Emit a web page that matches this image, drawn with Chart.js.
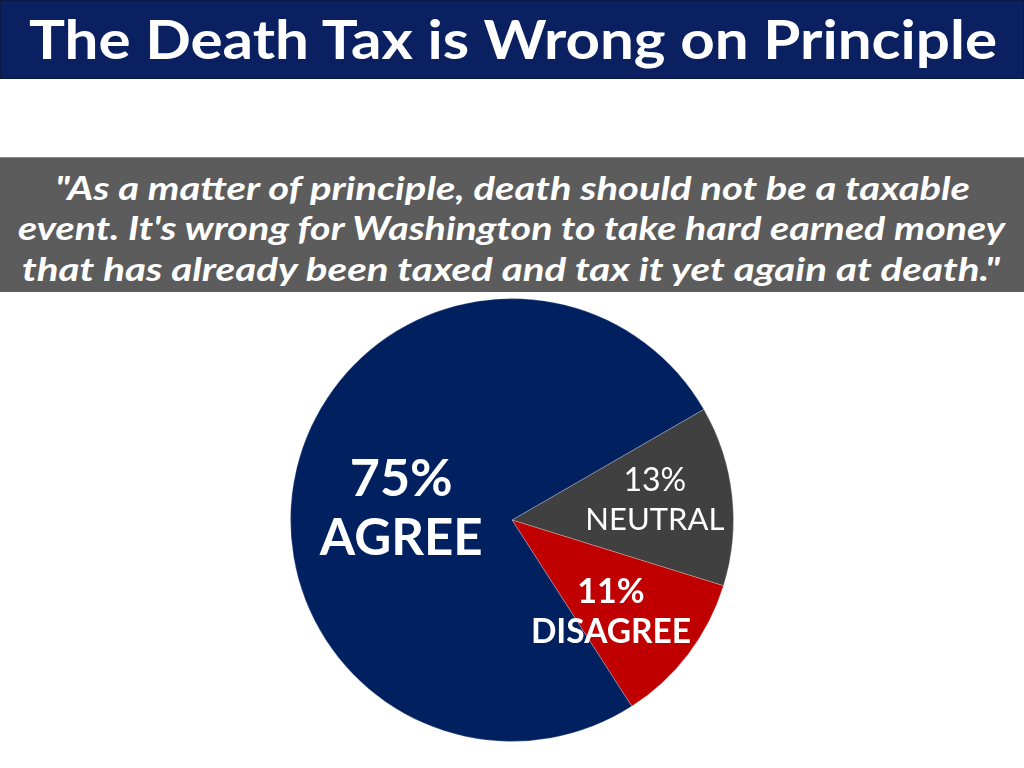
<!DOCTYPE html>
<html>
<head>
<meta charset="utf-8">
<title>The Death Tax is Wrong on Principle</title>
<script src="https://cdn.jsdelivr.net/npm/chart.js@4"></script>
<style>
    html, body { margin: 0; padding: 0; background: #fff; }
    body { width: 1024px; height: 768px; position: relative; overflow: hidden; font-family: Lato, "DejaVu Sans", sans-serif; }
    #titleBar {
        position: absolute; left: 0; top: 0; width: 1022px; height: 77px;
        background: #0b2060; border: 1px solid #0a1a40;
    }
    #titleBar .line {
        position: absolute; left: 0; top: 6px; white-space: nowrap;
        color: #fff; font-weight: bold; font-size: 54px; line-height: 64px;
        transform-origin: left top;
    }
    #quoteBox {
        position: absolute; left: 0; top: 157px; width: 1024px; height: 134px;
        background: #5c5c5c; border-top: 1px solid #888;
    }
    #quoteBox .line {
        position: absolute; white-space: nowrap;
        color: #fff; font-weight: bold; font-style: italic; font-size: 33px; line-height: 41px;
        transform-origin: left top;
    }
    #chartWrap { position: absolute; left: 0; top: 296px; width: 1024px; height: 448px; }
</style>
</head>
<body>
<div id="titleBar"><span class="line" data-x="28" data-w="968">The Death Tax is Wrong on Principle</span></div>
<div id="quoteBox">
    <span class="line" data-x="55" data-y="9" data-w="915">"As a matter of principle, death should not be a taxable</span>
    <span class="line" data-x="18" data-y="49" data-w="987">event. It's wrong for Washington to take hard earned money</span>
    <span class="line" data-x="22" data-y="90" data-w="978">that has already been taxed and tax it yet again at death."</span>
</div>
<div id="chartWrap"><canvas id="pieChart"></canvas></div>

<script>
// Datos del gráfico
const categories = ['NEUTRAL', 'DISAGREE', 'AGREE'];
const values = [13, 11, 75];
const percentLabels = ['13%', '11%', '75%'];
const sliceColors = ['#404040', '#c00000', '#002060'];

// Ajusta cada línea de texto al ancho que ocupa en la imagen
document.querySelectorAll('.line').forEach(function (el) {
    const w = el.getBoundingClientRect().width;
    const target = parseFloat(el.dataset.w);
    el.style.left = el.dataset.x + 'px';
    if (el.dataset.y) el.style.top = el.dataset.y + 'px';
    el.style.transform = 'scaleX(' + (target / w) + ')';
});

// Etiquetas dentro de cada sector (desplazamiento relativo al radio)
const labelStyle = {
    'AGREE':    { dx: -0.50, dy: -0.05, pct: 52, name: 51, weight: 'bold', gap: 60 },
    'NEUTRAL':  { dx: 0.645, dy: -0.09, pct: 32, name: 31, weight: 'normal', gap: 39 },
    'DISAGREE': { dx: 0.447, dy: 0.415, pct: 34, name: 33.5, weight: 'bold', gap: 40 }
};

const sliceLabels = {
    id: 'sliceLabels',
    afterDatasetsDraw(chart) {
        const ctx = chart.ctx;
        const meta = chart.getDatasetMeta(0);
        meta.data.forEach(function (arc, i) {
            const st = labelStyle[categories[i]];
            const r = arc.outerRadius;
            const x = arc.x + st.dx * r;
            const y = arc.y + st.dy * r;
            ctx.save();
            ctx.fillStyle = '#fff';
            ctx.textAlign = 'center';
            ctx.textBaseline = 'middle';
            ctx.font = st.weight + ' ' + st.pct + 'px Lato, "DejaVu Sans", sans-serif';
            ctx.fillText(percentLabels[i], x, y - st.gap / 2);
            ctx.font = st.weight + ' ' + st.name + 'px Lato, "DejaVu Sans", sans-serif';
            ctx.fillText(categories[i], x, y + st.gap / 2);
            ctx.restore();
        });
    }
};

new Chart(document.getElementById('pieChart').getContext('2d'), {
    type: 'pie',
    data: {
        labels: categories,
        datasets: [{
            data: values,
            backgroundColor: sliceColors,
            borderColor: 'rgba(255,255,255,0.25)',
            borderWidth: 1
        }]
    },
    options: {
        responsive: true,
        maintainAspectRatio: false,
        animation: false,
        rotation: 60,
        layout: { padding: 2 },
        plugins: {
            legend: { display: false },
            tooltip: { enabled: false }
        }
    },
    plugins: [sliceLabels]
});
</script>
</body>
</html>
